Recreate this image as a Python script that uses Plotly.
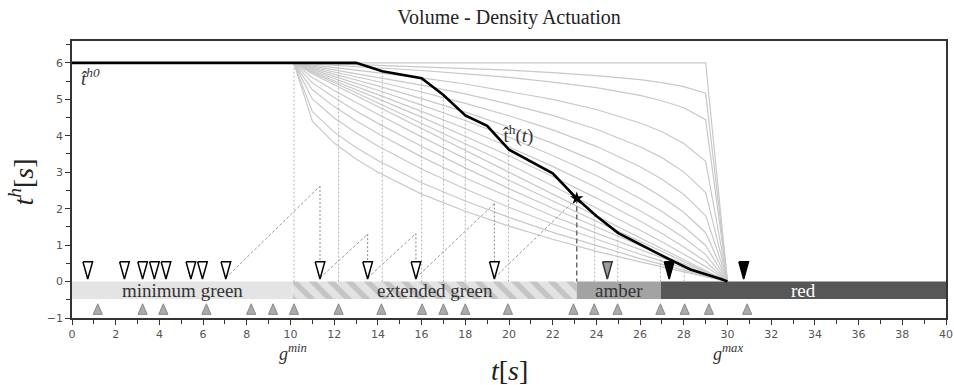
import plotly.graph_objects as go

# ---------------- data ----------------
# time grid of the gray threshold curves (s)
curve_t = [10.15, 11, 12, 13, 14, 16, 18, 20, 22, 24, 26, 27, 28, 29, 30]
# family of gray threshold curves t^h (s)
curve_top = [6, 6, 6, 6, 6, 6, 6, 6, 6, 6, 6, 6, 6, 6, 0]
curve_u05 = [6, 5.98, 5.97, 5.95, 5.93, 5.89, 5.85, 5.80, 5.73, 5.65, 5.54, 5.46, 5.35, 5.17, 0]
curve_u10 = [6, 5.97, 5.94, 5.90, 5.87, 5.79, 5.70, 5.60, 5.47, 5.32, 5.11, 4.96, 4.77, 4.44, 0]
curve_u20 = [6, 5.94, 5.87, 5.81, 5.74, 5.59, 5.42, 5.22, 5.00, 4.72, 4.35, 4.11, 3.79, 3.30, 0]
curve_u30 = [6, 5.91, 5.81, 5.71, 5.61, 5.39, 5.15, 4.87, 4.56, 4.18, 3.70, 3.40, 3.01, 2.44, 0]
curve_u40 = [6, 5.88, 5.75, 5.62, 5.49, 5.20, 4.89, 4.55, 4.16, 3.71, 3.15, 2.81, 2.39, 1.81, 0]
curve_u50 = [6, 5.85, 5.69, 5.53, 5.37, 5.02, 4.65, 4.24, 3.79, 3.29, 2.68, 2.32, 1.90, 1.34, 0]
curve_u60 = [6, 5.82, 5.63, 5.44, 5.25, 4.84, 4.42, 3.96, 3.46, 2.91, 2.28, 1.92, 1.51, 0.99, 0]
curve_u70 = [6, 5.79, 5.57, 5.36, 5.13, 4.67, 4.20, 3.69, 3.16, 2.58, 1.94, 1.59, 1.20, 0.74, 0]
curve_u80 = [6, 5.76, 5.51, 5.27, 5.02, 4.51, 3.99, 3.45, 2.88, 2.29, 1.66, 1.32, 0.95, 0.55, 0]
curve_u90 = [6, 5.73, 5.46, 5.18, 4.91, 4.35, 3.79, 3.22, 2.63, 2.03, 1.41, 1.09, 0.76, 0.41, 0]
curve_mid = [6, 5.70, 5.40, 5.10, 4.80, 4.20, 3.60, 3.00, 2.40, 1.80, 1.20, 0.90, 0.60, 0.30, 0]
curve_l90 = [6, 5.60, 5.24, 4.91, 4.59, 3.97, 3.37, 2.78, 2.21, 1.65, 1.09, 0.82, 0.54, 0.27, 0]
curve_l80 = [6, 5.45, 5.05, 4.68, 4.34, 3.71, 3.12, 2.55, 2.01, 1.49, 0.98, 0.73, 0.49, 0.24, 0]
curve_l70 = [6, 5.26, 4.80, 4.41, 4.06, 3.42, 2.84, 2.31, 1.80, 1.33, 0.87, 0.65, 0.43, 0.21, 0]
curve_l60 = [6, 5.01, 4.49, 4.08, 3.72, 3.09, 2.54, 2.04, 1.58, 1.16, 0.75, 0.56, 0.37, 0.18, 0]
curve_l50 = [6, 4.66, 4.10, 3.68, 3.32, 2.71, 2.21, 1.76, 1.35, 0.98, 0.63, 0.47, 0.31, 0.15, 0]
curve_l42 = [6, 4.40, 3.80, 3.36, 3.00, 2.40, 1.93, 1.52, 1.16, 0.83, 0.54, 0.40, 0.26, 0.13, 0]

# actual threshold t^h(t) (black line)
thr_t = [0, 13.0, 14.2, 16.0, 17.0, 18.0, 19.0, 20.0, 22.0, 23.1, 24.0, 25.0, 27.3, 28.3, 29.7, 30.0]
thr_y = [6, 6, 5.77, 5.58, 5.12, 4.56, 4.27, 3.62, 2.97, 2.28, 1.80, 1.33, 0.62, 0.33, 0.07, 0.0]

# vehicle arrivals at stop line (gray up triangles)
arrive_t = [1.18, 3.23, 4.18, 6.15, 8.2, 9.2, 10.16, 12.2, 14.16, 16.02, 17.0, 18.0,
            19.95, 22.95, 23.9, 24.97, 26.93, 28.04, 29.15, 30.9]
arrive_y = -0.61
# update instants (dotted verticals) and threshold reached there
upd_t = [10.16, 12.2, 14.2, 16.0, 17.0, 18.0, 19.98, 23.92, 24.98, 26.93, 28.02]
upd_top = [6.0, 6.0, 5.77, 5.58, 5.12, 4.56, 3.62, 1.80, 1.33, 0.66, 0.35]

# detector actuations (down triangles)
det_open_t = [0.72, 2.4, 3.23, 3.77, 4.3, 5.44, 5.97, 7.04, 11.35, 13.53, 15.74, 19.33]
det_gray_t = [24.5]
det_black_t = [27.33, 30.74]
det_y = 0.07

# gap timer (dashed sawtooth)
gap_start = [7.04, 11.35, 13.53, 15.74, 19.33]
gap_peak_t = [11.35, 13.53, 15.74, 19.33, 23.1]
gap_peak_y = [2.62, 1.30, 1.32, 2.14, 2.28]
gap_base = 0.1
gap_drop_to = 0.55

# signal phases
phase_names = ["minimum green", "extended green", "amber", "red"]
phase_start = [0, 10.1, 23.1, 26.95]
phase_end = [10.1, 23.1, 26.95, 40]
band_low, band_high = -0.48, 0.0

curves = [curve_top, curve_u05, curve_u10, curve_u20, curve_u30, curve_u40, curve_u50,
          curve_u60, curve_u70, curve_u80, curve_u90, curve_mid, curve_l90, curve_l80,
          curve_l70, curve_l60, curve_l50, curve_l42]

# ---------------- figure ----------------
SERIF = "Liberation Serif"
# marker geometry in axis units (x: 21.9 px/s, y: 36.5 px/s)
DOWN_HALF_W, DOWN_H = 0.22, 0.47
UP_HALF_W, UP_H = 0.21, 0.29

fig = go.Figure()

# phase band
phase_fill = ["#e4e4e4", "#e3e3e3", "#a3a3a3", "#575757"]
for i, name in enumerate(phase_names):
    pattern = dict(shape="")
    if name == "extended green":
        pattern = dict(shape="\\", fgcolor="#c4c4c4", bgcolor="#e3e3e3",
                       size=13, solidity=0.42, fillmode="replace")
    fig.add_trace(go.Bar(
        orientation="h", y=[(band_low + band_high) / 2], x=[phase_end[i] - phase_start[i]],
        base=[phase_start[i]], width=[band_high - band_low],
        marker=dict(color=phase_fill[i], line=dict(width=0), pattern=pattern),
        hoverinfo="skip"))

# gray curves
for c in curves:
    fig.add_trace(go.Scatter(x=curve_t, y=c, mode="lines",
                             line=dict(color="#c9c9c9", width=1.2), hoverinfo="skip"))

# dotted update verticals
vx, vy = [], []
for t, top in zip(upd_t, upd_top):
    vx += [t, t, None]
    vy += [band_high, top, None]
fig.add_trace(go.Scatter(x=vx, y=vy, mode="lines",
                         line=dict(color="#b4b4b4", width=1, dash="2px,2px"), hoverinfo="skip"))

# sawtooth gap timer
sx, sy = [], []
for a, pt, py in zip(gap_start, gap_peak_t, gap_peak_y):
    sx += [a, pt, None]
    sy += [gap_base, py, None]
fig.add_trace(go.Scatter(x=sx, y=sy, mode="lines",
                         line=dict(color="#9a9a9a", width=1, dash="3px,2px"), hoverinfo="skip"))
dx, dy = [], []
for pt, py in zip(gap_peak_t[:-1], gap_peak_y[:-1]):
    dx += [pt, pt, None]
    dy += [py, gap_drop_to, None]
fig.add_trace(go.Scatter(x=dx, y=dy, mode="lines",
                         line=dict(color="#888888", width=1, dash="2px,2px"), hoverinfo="skip"))
fig.add_trace(go.Scatter(x=[gap_peak_t[-1], gap_peak_t[-1]], y=[gap_peak_y[-1], band_high],
                         mode="lines", line=dict(color="#6a6a6a", width=1.5, dash="5px,3px"),
                         hoverinfo="skip"))

# black threshold line
fig.add_trace(go.Scatter(x=thr_t, y=thr_y, mode="lines",
                         line=dict(color="black", width=2.6), hoverinfo="skip"))
fig.add_trace(go.Scatter(x=[gap_peak_t[-1]], y=[gap_peak_y[-1]], mode="markers",
                         marker=dict(symbol="star", size=10, color="black"), hoverinfo="skip"))


def tri_trace(ts, tip, half_w, h, down, fill, edge, lw):
    xs, ys = [], []
    base = tip + h if down else tip - h
    for t in ts:
        xs += [t - half_w, t + half_w, t, t - half_w, None]
        ys += [base, base, tip, base, None]
    return go.Scatter(x=xs, y=ys, mode="lines", fill="toself", fillcolor=fill,
                      line=dict(color=edge, width=lw), hoverinfo="skip")


fig.add_trace(tri_trace(arrive_t, arrive_y, UP_HALF_W, UP_H, False, "#ababab", "#8a8a8a", 1))
fig.add_trace(tri_trace(det_open_t, det_y, DOWN_HALF_W, DOWN_H, True, "white", "black", 1.5))
fig.add_trace(tri_trace(det_gray_t, det_y, DOWN_HALF_W, DOWN_H, True, "#9c9c9c", "#333", 1.5))
fig.add_trace(tri_trace(det_black_t, det_y, DOWN_HALF_W, DOWN_H, True, "black", "black", 1.5))

# phase labels
for i, name in enumerate(phase_names):
    fig.add_annotation(x=(phase_start[i] + phase_end[i]) / 2, y=(band_low + band_high) / 2,
                       text=name, showarrow=False,
                       font=dict(family=SERIF, size=19, color="white" if name == "red" else "#333"))

# curve labels
fig.add_annotation(x=0.3, y=5.6, xanchor="left", text="<i>t\u0302</i><sup><i>h0</i></sup>",
                   showarrow=False, font=dict(family=SERIF, size=19, color="#333"))
fig.add_annotation(x=20.4, y=4.03, text="t\u0302<sup>h</sup>(<i>t</i>)",
                   showarrow=False, font=dict(family=SERIF, size=19, color="#333"))

# axis titles and g labels
fig.add_annotation(xref="paper", yref="paper", x=0.5, y=-0.19, yanchor="middle",
                   text="<i>t</i>[<i>s</i>]", showarrow=False,
                   font=dict(family=SERIF, size=28, color="#222"))
fig.add_annotation(xref="paper", yref="paper", x=-0.058, y=0.49, xanchor="center",
                   yanchor="middle", textangle=-90,
                   text="<i>t</i><sup><i>h</i></sup>[<i>s</i>]", showarrow=False,
                   font=dict(family=SERIF, size=28, color="#222"))
fig.add_annotation(xref="x", yref="paper", x=phase_start[1], y=-0.125, yanchor="middle",
                   text="<i>g</i><sup><i>min</i></sup>", showarrow=False,
                   font=dict(family=SERIF, size=18, color="#333"))
fig.add_annotation(xref="x", yref="paper", x=curve_t[-1], y=-0.125, yanchor="middle",
                   text="<i>g</i><sup><i>max</i></sup>", showarrow=False,
                   font=dict(family=SERIF, size=18, color="#333"))

axis_common = dict(showline=True, linecolor="#333", linewidth=1.5, mirror=True,
                   showgrid=False, zeroline=False, ticks="outside", ticklen=5,
                   tickwidth=1.2, tickcolor="#333", automargin=False,
                   ticklabeloverflow="allow",
                   tickfont=dict(family="DejaVu Sans", size=11, color="#555"))
fig.update_xaxes(range=[0, 40], tick0=0, dtick=2,
                 minor=dict(dtick=1, ticks="outside", ticklen=4, tickcolor="#333"),
                 **axis_common)
fig.update_yaxes(range=[-1, 6.6], tick0=0, dtick=1,
                 minor=dict(dtick=0.5, ticks="outside", ticklen=4, tickcolor="#333"),
                 **axis_common)

fig.update_layout(
    width=954, height=385, margin=dict(l=72, r=8, t=41, b=67),
    showlegend=False, plot_bgcolor="white", paper_bgcolor="white", barmode="overlay",
    title=dict(text="Volume - Density Actuation", x=0.5, xref="paper",
               y=1 - 17 / 385, yref="container", yanchor="middle",
               font=dict(family=SERIF, size=20, color="#222")),
)

fig.write_html("out.html")
